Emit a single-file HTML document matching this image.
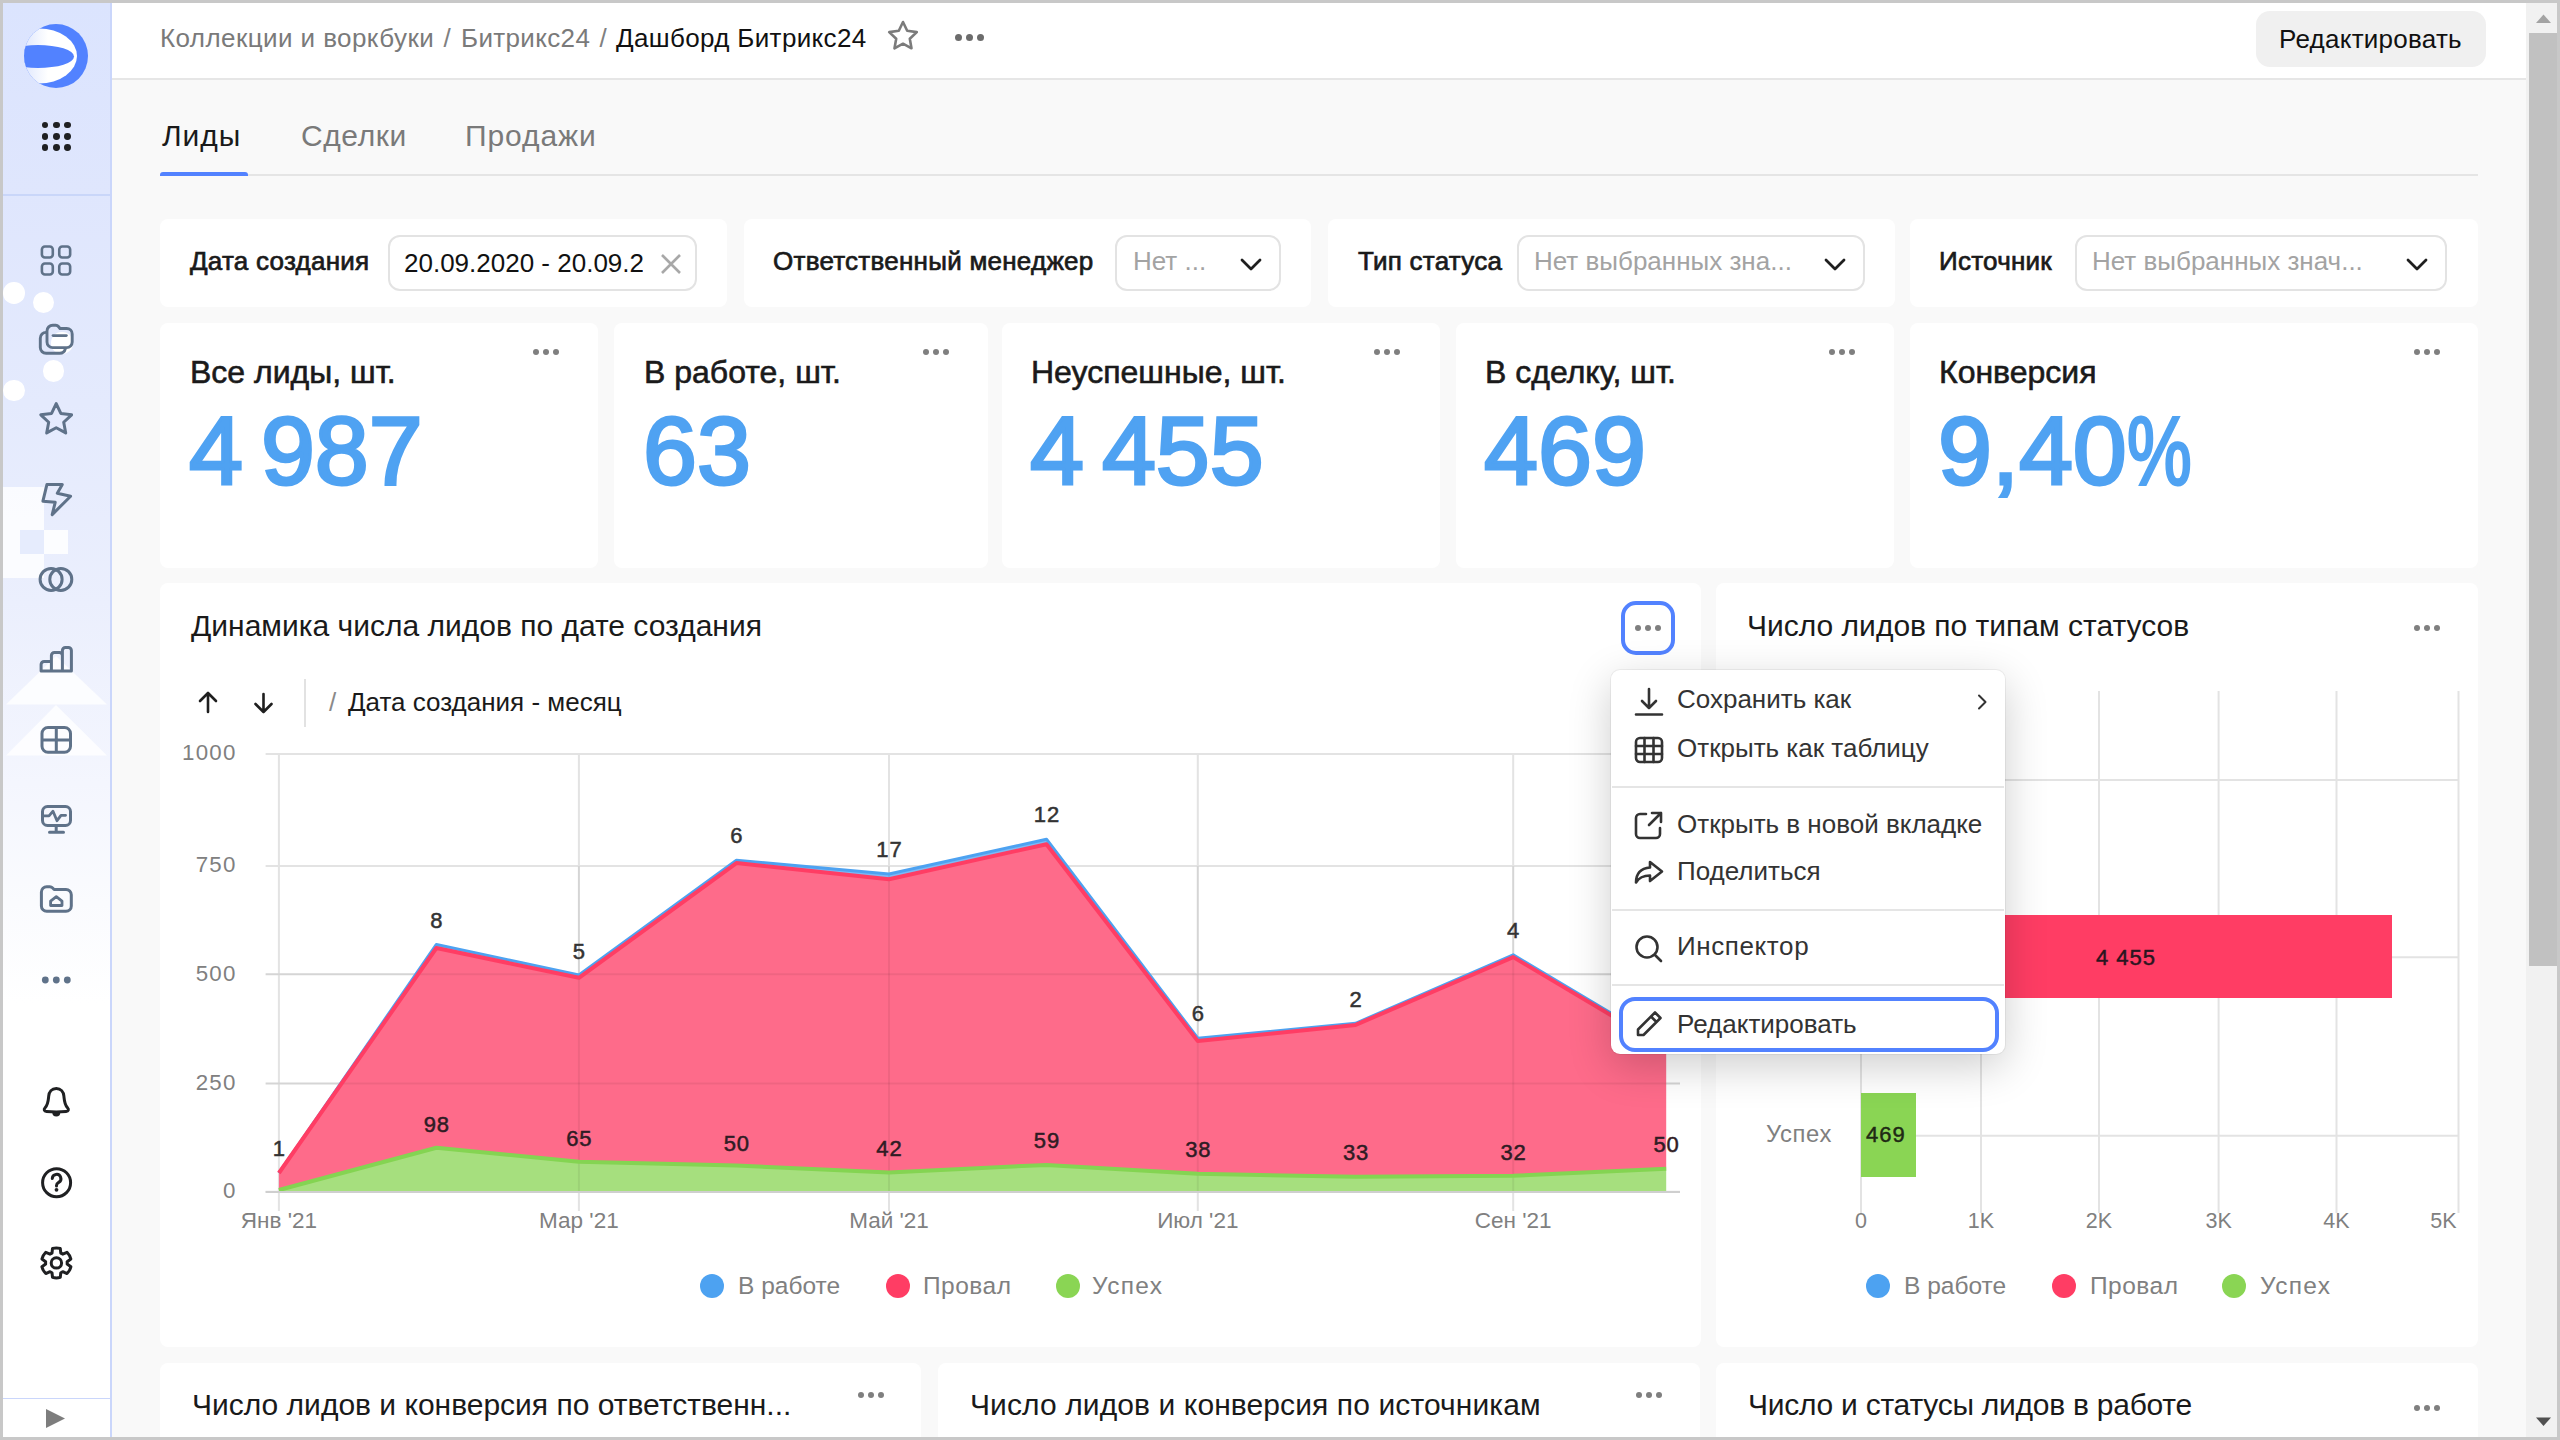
<!DOCTYPE html><html><head><meta charset="utf-8"><style>
html,body{font-family:'Liberation Sans',sans-serif;margin:0;padding:0;width:2560px;height:1440px;overflow:hidden;background:#c8c8c8;}
.t{position:absolute;white-space:nowrap;line-height:1;}
.r{position:absolute;box-sizing:border-box;}
svg{position:absolute;overflow:visible}
</style></head><body>
<div class="r" style="left:3px;top:3px;width:2554px;height:1434px;background:#f9f9f9;border-radius:0px;"></div>
<div class="r" style="left:3px;top:3px;width:108px;height:1434px;background:linear-gradient(180deg,#dbe4fe 0px,#dfe6fd 190px,#e4eafd 400px,#ebeffd 600px,#f4f6fe 780px,#fafbfe 900px,#ffffff 1000px,#ffffff 1434px)"></div>
<div class="r" style="left:3.4000000000000004px;top:282.3px;width:21.4px;height:21.4px;border-radius:50%;background:#ffffff"></div>
<div class="r" style="left:32.5px;top:292.1px;width:21.4px;height:21.4px;border-radius:50%;background:#ffffff"></div>
<div class="r" style="left:42.7px;top:360.3px;width:21.4px;height:21.4px;border-radius:50%;background:#ffffff"></div>
<div class="r" style="left:3.4000000000000004px;top:379.8px;width:21.4px;height:21.4px;border-radius:50%;background:#ffffff"></div>
<div class="r" style="left:51.3px;top:332.3px;width:21.4px;height:21.4px;border-radius:50%;background:#ffffff"></div>
<div class="r" style="left:3px;top:487px;width:41px;height:91px;background:rgba(255,255,255,0.8);border-radius:0px;"></div>
<div class="r" style="left:20px;top:530px;width:24px;height:24px;background:#e6ecfd;border-radius:0px;"></div>
<div class="r" style="left:44px;top:530px;width:24px;height:24px;background:rgba(255,255,255,0.85);border-radius:0px;"></div>
<svg style="left:0;top:0" width="120" height="800"><polygon points="6,704.5 56,656 107,704.5" fill="rgba(255,255,255,0.8)"/><polygon points="6,755.5 56,705 107,755.5" fill="rgba(255,255,255,0.8)"/></svg>
<div class="r" style="left:110px;top:3px;width:2px;height:1434px;background:#cad6fb;border-radius:0px;"></div>
<div class="r" style="left:3px;top:194px;width:107px;height:2px;background:#c9d6f9;border-radius:0px;"></div>
<div class="r" style="left:3px;top:1398px;width:107px;height:1px;background:#cad6fb;border-radius:0px;"></div>
<svg style="left:24px;top:24px" width="64" height="64" viewBox="0 0 64 64">
<defs><clipPath id="lc"><circle cx="32" cy="32" r="32"/></clipPath>
<linearGradient id="lg" x1="0" x2="1" y1="0" y2="0"><stop offset="0.3" stop-color="#dfe7fd"/><stop offset="0.62" stop-color="#ffffff"/></linearGradient></defs>
<g clip-path="url(#lc)"><rect width="64" height="64" fill="#5282ff"/>
<ellipse cx="15" cy="32" rx="38" ry="27.5" fill="url(#lg)"/>
<ellipse cx="14" cy="32.5" rx="36" ry="11.5" fill="#5282ff"/></g></svg>
<div class="r" style="left:41.6px;top:121.6px;width:6.8px;height:6.8px;border-radius:50%;background:#1f2022"></div>
<div class="r" style="left:41.6px;top:132.8px;width:6.8px;height:6.8px;border-radius:50%;background:#1f2022"></div>
<div class="r" style="left:41.6px;top:144.1px;width:6.8px;height:6.8px;border-radius:50%;background:#1f2022"></div>
<div class="r" style="left:52.9px;top:121.6px;width:6.8px;height:6.8px;border-radius:50%;background:#1f2022"></div>
<div class="r" style="left:52.9px;top:132.8px;width:6.8px;height:6.8px;border-radius:50%;background:#1f2022"></div>
<div class="r" style="left:52.9px;top:144.1px;width:6.8px;height:6.8px;border-radius:50%;background:#1f2022"></div>
<div class="r" style="left:64.1px;top:121.6px;width:6.8px;height:6.8px;border-radius:50%;background:#1f2022"></div>
<div class="r" style="left:64.1px;top:132.8px;width:6.8px;height:6.8px;border-radius:50%;background:#1f2022"></div>
<div class="r" style="left:64.1px;top:144.1px;width:6.8px;height:6.8px;border-radius:50%;background:#1f2022"></div>
<svg style="left:0;top:0" width="120" height="1440"><rect x="41.9" y="246.55" width="10.9" height="11" rx="3" fill="none" stroke="#5f7289" stroke-width="2.6"/><rect x="59.25" y="246.55" width="10.9" height="11" rx="3" fill="none" stroke="#5f7289" stroke-width="2.6"/><rect x="41.9" y="263.55" width="10.9" height="11" rx="3" fill="none" stroke="#5f7289" stroke-width="2.6"/><rect x="59.25" y="263.55" width="10.9" height="11" rx="3" fill="none" stroke="#5f7289" stroke-width="2.6"/><path d="M47,331 a5.8,5.8 0 0 1 5.8,-5.8 h3 q1.6,0 2.6,1.3 l1.6,2 h6.7 a5.5,5.5 0 0 1 5.5,5.5 v8.1 a5.5,5.5 0 0 1 -5.5,5.5 h-14 a5.7,5.7 0 0 1 -5.7,-5.7 z" fill="none" stroke="#5f7289" stroke-width="2.9" stroke-linecap="round" stroke-linejoin="round"/><path d="M46.5,332.4 h-0.4 a5.8,5.8 0 0 0 -5.8,5.8 v9.3 a5.8,5.8 0 0 0 5.8,5.8 h13.6 a5.8,5.8 0 0 0 5.6,-4.4" fill="none" stroke="#5f7289" stroke-width="2.9" stroke-linecap="round" stroke-linejoin="round"/><path d="M53.1,335.6 h13.2" fill="none" stroke="#5f7289" stroke-width="2.9" stroke-linecap="round" stroke-linejoin="round"/><path d="M56.20,403.60 L60.84,413.41 L71.61,414.79 L63.71,422.24 L65.72,432.91 L56.20,427.70 L46.68,432.91 L48.69,422.24 L40.79,414.79 L51.56,413.41 Z" fill="none" stroke="#5f7289" stroke-width="3" stroke-linecap="round" stroke-linejoin="round"/><path d="M46.9,484.6 L62.3,484.6 L57.3,493.2 L70.6,496.2 L52.2,514.6 L55.2,502.3 L42.9,501.2 Z" fill="none" stroke="#5f7289" stroke-width="3" stroke-linecap="round" stroke-linejoin="round"/><circle cx="51.1" cy="579.4" r="11" fill="none" stroke="#5f7289" stroke-width="3"/><circle cx="60.8" cy="579.4" r="11" fill="none" stroke="#5f7289" stroke-width="3"/><path d="M41.1,671 v-6.5 a3,3 0 0 1 3,-3 h7.3 v9.5 z M51.4,671 v-15.5 a3,3 0 0 1 3,-3 h5 a3,3 0 0 1 3,3 v15.5 z M62.4,671 v-20.5 a3,3 0 0 1 3,-3 h3 a3,3 0 0 1 3,3 v20.5 z" fill="none" stroke="#5f7289" stroke-width="3" stroke-linecap="round" stroke-linejoin="round"/><path d="M48,727.5 h16.5 a6,6 0 0 1 6,6 v12.8 a6,6 0 0 1 -6,6 h-16.5 a6,6 0 0 1 -6,-6 v-12.8 a6,6 0 0 1 6,-6 z M56.3,727.5 v24.8 M42,739.9 h28.5" fill="none" stroke="#5f7289" stroke-width="3" stroke-linecap="round" stroke-linejoin="round"/><path d="M47.5,806.5 h18 a5,5 0 0 1 5,5 v9 a5,5 0 0 1 -5,5 h-18 a5,5 0 0 1 -5,-5 v-9 a5,5 0 0 1 5,-5 z" fill="none" stroke="#5f7289" stroke-width="3" stroke-linecap="round" stroke-linejoin="round"/><path d="M56.2,826 v6.2 M49.5,832.2 h14" fill="none" stroke="#5f7289" stroke-width="3" stroke-linecap="round" stroke-linejoin="round"/><path d="M43.5,815.8 h5.5 l4,-4.6 l4,9.5 l4,-5.4 h4.6" fill="none" stroke="#5f7289" stroke-width="2.8" stroke-linecap="round" stroke-linejoin="round"/><path d="M41.4,892 a5.3,5.3 0 0 1 5.3,-5.3 h3.2 q1.5,0 2.5,1.1 l1.7,1.7 h11.9 a5.3,5.3 0 0 1 5.3,5.3 v11.2 a5.3,5.3 0 0 1 -5.3,5.3 h-19.3 a5.3,5.3 0 0 1 -5.3,-5.3 z" fill="none" stroke="#5f7289" stroke-width="3" stroke-linecap="round" stroke-linejoin="round"/><path d="M56.3,896.6 l5.7,4.5 v4.4 h-11.4 v-4.4 z" fill="none" stroke="#5f7289" stroke-width="2.8" stroke-linecap="round" stroke-linejoin="round"/><circle cx="45.3" cy="980" r="3.4" fill="#5f7289"/><circle cx="56.3" cy="980" r="3.4" fill="#5f7289"/><circle cx="67.3" cy="980" r="3.4" fill="#5f7289"/><path d="M56.3,1088.6 c-4.6,0 -7.2,3.4 -7.6,7.6 c-0.5,5.4 -0.6,8.4 -3.6,11.6 c-1.6,1.7 -0.9,3.6 1.4,3.7 c6.5,0.5 13.1,0.5 19.6,0 c2.3,-0.1 3,-2 1.4,-3.7 c-3,-3.2 -3.1,-6.2 -3.6,-11.6 c-0.4,-4.2 -3,-7.6 -7.6,-7.6 z" fill="none" stroke="#1f2022" stroke-width="3" stroke-linecap="round" stroke-linejoin="round"/><path d="M52.3,1112.6 a4,4 0 0 0 8,0 z" fill="#1f2022"/><circle cx="56.6" cy="1182.7" r="14" fill="none" stroke="#1f2022" stroke-width="3"/><path d="M52.3,1178.6 a4.3,4.3 0 1 1 6.4,3.8 c-1.4,0.8 -2.2,1.5 -2.2,3 v0.6" fill="none" stroke="#1f2022" stroke-width="3" stroke-linecap="round" stroke-linejoin="round"/><circle cx="56.5" cy="1189.8" r="1.9" fill="#1f2022"/><path d="M52.01,1253.03 L52.52,1248.41 A15.0,15.0 0 0 1 60.28,1248.41 L60.79,1253.03 A10.8,10.8 0 0 1 62.75,1254.16 L67.01,1252.29 A15.0,15.0 0 0 1 70.89,1259.02 L67.14,1261.77 A10.8,10.8 0 0 1 67.14,1264.03 L70.89,1266.78 A15.0,15.0 0 0 1 67.01,1273.51 L62.75,1271.64 A10.8,10.8 0 0 1 60.79,1272.77 L60.28,1277.39 A15.0,15.0 0 0 1 52.52,1277.39 L52.01,1272.77 A10.8,10.8 0 0 1 50.05,1271.64 L45.79,1273.51 A15.0,15.0 0 0 1 41.91,1266.78 L45.66,1264.03 A10.8,10.8 0 0 1 45.66,1261.77 L41.91,1259.02 A15.0,15.0 0 0 1 45.79,1252.29 L50.05,1254.16 A10.8,10.8 0 0 1 52.01,1253.03 Z" fill="none" stroke="#1f2022" stroke-width="3" stroke-linecap="round" stroke-linejoin="round"/><circle cx="56.4" cy="1262.9" r="5.2" fill="none" stroke="#1f2022" stroke-width="3"/></svg>
<svg style="left:46px;top:1409px" width="20" height="20"><polygon points="0,0 19,9.5 0,19" fill="#7d7d7d"/></svg>
<div class="r" style="left:112px;top:3px;width:2414px;height:75px;background:#ffffff;border-radius:0px;"></div>
<div class="r" style="left:112px;top:78px;width:2414px;height:2px;background:#e6e6e6;border-radius:0px;"></div>
<div class="t" style="left:160.0px;top:25.4px;font-size:26px;color:#7a7a7a;font-weight:400;font-family:'Liberation Sans', sans-serif;letter-spacing:0.42px;">Коллекции и воркбуки</div>
<div class="t" style="left:443.5px;top:25.4px;font-size:26px;color:#808080;font-weight:400;font-family:'Liberation Sans', sans-serif;letter-spacing:0px;">/</div>
<div class="t" style="left:461.0px;top:25.4px;font-size:26px;color:#7a7a7a;font-weight:400;font-family:'Liberation Sans', sans-serif;letter-spacing:0.35px;">Битрикс24</div>
<div class="t" style="left:599.5px;top:25.4px;font-size:26px;color:#808080;font-weight:400;font-family:'Liberation Sans', sans-serif;letter-spacing:0px;">/</div>
<div class="t" style="left:616.0px;top:25.4px;font-size:26px;color:#111111;font-weight:400;font-family:'Liberation Sans', sans-serif;letter-spacing:0.35px;">Дашборд Битрикс24</div>
<svg style="left:886px;top:19px" width="34" height="34" viewBox="0 0 34 34" fill="none" stroke="#7b7b7b" stroke-width="2.6" stroke-linejoin="round"><path d="M17 3 l4.2 8.8 9.6 1.3 -7 6.7 1.7 9.5 -8.5 -4.6 -8.5 4.6 1.7 -9.5 -7 -6.7 9.6 -1.3 z"/></svg>
<div class="r" style="left:955.0px;top:33.5px;width:7px;height:7px;border-radius:50%;background:#6c6c6c"></div>
<div class="r" style="left:966.0px;top:33.5px;width:7px;height:7px;border-radius:50%;background:#6c6c6c"></div>
<div class="r" style="left:977.0px;top:33.5px;width:7px;height:7px;border-radius:50%;background:#6c6c6c"></div>
<div class="r" style="left:2256px;top:11px;width:230px;height:56px;background:#f0f0f0;border-radius:14px;"></div>
<div class="t" style="left:2279.0px;top:25.7px;font-size:26px;color:#111111;font-weight:400;font-family:'Liberation Sans', sans-serif;letter-spacing:0.25px;">Редактировать</div>
<div class="r" style="left:2526px;top:3px;width:31px;height:1434px;background:#f1f1f1;border-radius:0px;"></div>
<div class="r" style="left:2529px;top:33px;width:28px;height:933px;background:#c1c1c1;border-radius:0px;"></div>
<svg style="left:2536px;top:14px" width="16" height="10"><polygon points="0,9 7.5,0.5 15,9" fill="#a3a3a3"/></svg>
<svg style="left:2536px;top:1417px" width="16" height="10"><polygon points="0,0.5 15,0.5 7.5,9" fill="#505050"/></svg>
<div class="t" style="left:162.0px;top:120.7px;font-size:30px;color:#1a1a1a;font-weight:400;font-family:'Liberation Sans', sans-serif;letter-spacing:0.9px;">Лиды</div>
<div class="t" style="left:301.0px;top:120.7px;font-size:30px;color:#7a7a7a;font-weight:400;font-family:'Liberation Sans', sans-serif;letter-spacing:0.6px;">Сделки</div>
<div class="t" style="left:465.0px;top:120.7px;font-size:30px;color:#7a7a7a;font-weight:400;font-family:'Liberation Sans', sans-serif;letter-spacing:0.9px;">Продажи</div>
<div class="r" style="left:160px;top:174px;width:2318px;height:2px;background:#e5e5e5;border-radius:0px;"></div>
<div class="r" style="left:160px;top:172px;width:88px;height:4px;background:#5282ff;border-radius:0px;border-radius:3px 3px 0 0"></div>
<div class="r" style="left:160px;top:219px;width:567px;height:88px;background:#ffffff;border-radius:8px;"></div>
<div class="t" style="left:190.0px;top:247.9px;font-size:26px;color:#1a1a1a;font-weight:400;font-family:'Liberation Sans', sans-serif;letter-spacing:0.25px;;-webkit-text-stroke:0.7px #1a1a1a;">Дата создания</div>
<div class="r" style="left:388px;top:235px;width:309px;height:56px;background:#ffffff;border-radius:12px;border:2px solid #e3e3e3"></div>
<div class="r" style="left:404px;top:240px;width:239px;height:46px;overflow:hidden"><div class="t" style="left:0;top:9.9px;font-size:26px;color:#111">20.09.2020 - 20.09.2021</div></div>
<svg style="left:660px;top:253px" width="22" height="22" fill="none" stroke="#a8a8a8" stroke-width="2.6"><path d="M2 2 l18 18 M20 2 l-18 18"/></svg>
<div class="r" style="left:744px;top:219px;width:567px;height:88px;background:#ffffff;border-radius:8px;"></div>
<div class="t" style="left:773.0px;top:247.9px;font-size:26px;color:#1a1a1a;font-weight:400;font-family:'Liberation Sans', sans-serif;letter-spacing:0.25px;;-webkit-text-stroke:0.7px #1a1a1a;">Ответственный менеджер</div>
<div class="r" style="left:1115px;top:235px;width:166px;height:56px;background:#ffffff;border-radius:12px;border:2px solid #e3e3e3"></div>
<div class="t" style="left:1133.0px;top:247.9px;font-size:26px;color:#a3a3a3;font-weight:400;font-family:'Liberation Sans', sans-serif;letter-spacing:0px;">Нет ...</div>
<svg style="left:1240px;top:258px" width="22" height="14" fill="none" stroke="#1f1f1f" stroke-width="2.8" stroke-linecap="round" stroke-linejoin="round"><path d="M2 2 l9 9 l9 -9"/></svg>
<div class="r" style="left:1328px;top:219px;width:567px;height:88px;background:#ffffff;border-radius:8px;"></div>
<div class="t" style="left:1358.0px;top:247.9px;font-size:26px;color:#1a1a1a;font-weight:400;font-family:'Liberation Sans', sans-serif;letter-spacing:0.25px;;-webkit-text-stroke:0.7px #1a1a1a;">Тип статуса</div>
<div class="r" style="left:1517px;top:235px;width:348px;height:56px;background:#ffffff;border-radius:12px;border:2px solid #e3e3e3"></div>
<div class="t" style="left:1534.0px;top:247.9px;font-size:26px;color:#a3a3a3;font-weight:400;font-family:'Liberation Sans', sans-serif;letter-spacing:0px;">Нет выбранных зна...</div>
<svg style="left:1824px;top:258px" width="22" height="14" fill="none" stroke="#1f1f1f" stroke-width="2.8" stroke-linecap="round" stroke-linejoin="round"><path d="M2 2 l9 9 l9 -9"/></svg>
<div class="r" style="left:1910px;top:219px;width:568px;height:88px;background:#ffffff;border-radius:8px;"></div>
<div class="t" style="left:1939.0px;top:247.9px;font-size:26px;color:#1a1a1a;font-weight:400;font-family:'Liberation Sans', sans-serif;letter-spacing:0.25px;;-webkit-text-stroke:0.7px #1a1a1a;">Источник</div>
<div class="r" style="left:2075px;top:235px;width:372px;height:56px;background:#ffffff;border-radius:12px;border:2px solid #e3e3e3"></div>
<div class="t" style="left:2092.0px;top:247.9px;font-size:26px;color:#a3a3a3;font-weight:400;font-family:'Liberation Sans', sans-serif;letter-spacing:0px;">Нет выбранных знач...</div>
<svg style="left:2406px;top:258px" width="22" height="14" fill="none" stroke="#1f1f1f" stroke-width="2.8" stroke-linecap="round" stroke-linejoin="round"><path d="M2 2 l9 9 l9 -9"/></svg>
<div class="r" style="left:160px;top:323px;width:438px;height:245px;background:#ffffff;border-radius:8px;"></div>
<div class="t" style="left:190.0px;top:356.0px;font-size:32px;color:#1a1a1a;font-weight:400;font-family:'Liberation Sans', sans-serif;letter-spacing:0px;;-webkit-text-stroke:0.6px #1a1a1a;">Все лиды, шт.</div>
<div class="t" style="left:189.0px;top:402.1px;font-size:97px;color:#4fa2f2;font-weight:400;font-family:'Liberation Sans', sans-serif;letter-spacing:0px;;-webkit-text-stroke:3px #4fa2f2;">4<span style="letter-spacing:-9px"> </span>987</div>
<div class="r" style="left:532.5px;top:349.0px;width:6px;height:6px;border-radius:50%;background:#7f7f7f"></div>
<div class="r" style="left:542.5px;top:349.0px;width:6px;height:6px;border-radius:50%;background:#7f7f7f"></div>
<div class="r" style="left:552.5px;top:349.0px;width:6px;height:6px;border-radius:50%;background:#7f7f7f"></div>
<div class="r" style="left:614px;top:323px;width:374px;height:245px;background:#ffffff;border-radius:8px;"></div>
<div class="t" style="left:644.0px;top:356.0px;font-size:32px;color:#1a1a1a;font-weight:400;font-family:'Liberation Sans', sans-serif;letter-spacing:0px;;-webkit-text-stroke:0.6px #1a1a1a;">В работе, шт.</div>
<div class="t" style="left:643.0px;top:402.1px;font-size:97px;color:#4fa2f2;font-weight:400;font-family:'Liberation Sans', sans-serif;letter-spacing:0px;;-webkit-text-stroke:3px #4fa2f2;">63</div>
<div class="r" style="left:922.5px;top:349.0px;width:6px;height:6px;border-radius:50%;background:#7f7f7f"></div>
<div class="r" style="left:932.5px;top:349.0px;width:6px;height:6px;border-radius:50%;background:#7f7f7f"></div>
<div class="r" style="left:942.5px;top:349.0px;width:6px;height:6px;border-radius:50%;background:#7f7f7f"></div>
<div class="r" style="left:1002px;top:323px;width:438px;height:245px;background:#ffffff;border-radius:8px;"></div>
<div class="t" style="left:1031.0px;top:356.0px;font-size:32px;color:#1a1a1a;font-weight:400;font-family:'Liberation Sans', sans-serif;letter-spacing:0px;;-webkit-text-stroke:0.6px #1a1a1a;">Неуспешные, шт.</div>
<div class="t" style="left:1030.0px;top:402.1px;font-size:97px;color:#4fa2f2;font-weight:400;font-family:'Liberation Sans', sans-serif;letter-spacing:0px;;-webkit-text-stroke:3px #4fa2f2;">4<span style="letter-spacing:-9px"> </span>455</div>
<div class="r" style="left:1374.0px;top:349.0px;width:6px;height:6px;border-radius:50%;background:#7f7f7f"></div>
<div class="r" style="left:1384.0px;top:349.0px;width:6px;height:6px;border-radius:50%;background:#7f7f7f"></div>
<div class="r" style="left:1394.0px;top:349.0px;width:6px;height:6px;border-radius:50%;background:#7f7f7f"></div>
<div class="r" style="left:1456px;top:323px;width:438px;height:245px;background:#ffffff;border-radius:8px;"></div>
<div class="t" style="left:1485.0px;top:356.0px;font-size:32px;color:#1a1a1a;font-weight:400;font-family:'Liberation Sans', sans-serif;letter-spacing:0px;;-webkit-text-stroke:0.6px #1a1a1a;">В сделку, шт.</div>
<div class="t" style="left:1484.0px;top:402.1px;font-size:97px;color:#4fa2f2;font-weight:400;font-family:'Liberation Sans', sans-serif;letter-spacing:0px;;-webkit-text-stroke:3px #4fa2f2;">469</div>
<div class="r" style="left:1828.5px;top:349.0px;width:6px;height:6px;border-radius:50%;background:#7f7f7f"></div>
<div class="r" style="left:1838.5px;top:349.0px;width:6px;height:6px;border-radius:50%;background:#7f7f7f"></div>
<div class="r" style="left:1848.5px;top:349.0px;width:6px;height:6px;border-radius:50%;background:#7f7f7f"></div>
<div class="r" style="left:1910px;top:323px;width:568px;height:245px;background:#ffffff;border-radius:8px;"></div>
<div class="t" style="left:1939.0px;top:356.0px;font-size:32px;color:#1a1a1a;font-weight:400;font-family:'Liberation Sans', sans-serif;letter-spacing:0px;;-webkit-text-stroke:0.6px #1a1a1a;">Конверсия</div>
<div class="t" style="left:1938.0px;top:402.1px;font-size:97px;color:#4fa2f2;font-weight:400;font-family:'Liberation Sans', sans-serif;letter-spacing:0px;;-webkit-text-stroke:3px #4fa2f2;">9,40<span style="display:inline-block;transform:scaleX(0.75);transform-origin:0 0">%</span></div>
<div class="r" style="left:2414.0px;top:349.0px;width:6px;height:6px;border-radius:50%;background:#7f7f7f"></div>
<div class="r" style="left:2424.0px;top:349.0px;width:6px;height:6px;border-radius:50%;background:#7f7f7f"></div>
<div class="r" style="left:2434.0px;top:349.0px;width:6px;height:6px;border-radius:50%;background:#7f7f7f"></div>
<div class="r" style="left:160px;top:583px;width:1541px;height:764px;background:#ffffff;border-radius:8px;"></div>
<div class="r" style="left:1716px;top:583px;width:762px;height:764px;background:#ffffff;border-radius:8px;"></div>
<div class="r" style="left:160px;top:1363px;width:761px;height:97px;background:#ffffff;border-radius:8px;"></div>
<div class="r" style="left:938px;top:1363px;width:762px;height:97px;background:#ffffff;border-radius:8px;"></div>
<div class="r" style="left:1716px;top:1363px;width:762px;height:97px;background:#ffffff;border-radius:8px;"></div>
<div class="t" style="left:191.0px;top:610.5px;font-size:30px;color:#1a1a1a;font-weight:400;font-family:'Liberation Sans', sans-serif;letter-spacing:0px;">Динамика числа лидов по дате создания</div>
<div class="t" style="left:1747.0px;top:610.5px;font-size:30px;color:#1a1a1a;font-weight:400;font-family:'Liberation Sans', sans-serif;letter-spacing:0px;">Число лидов по типам статусов</div>
<div class="r" style="left:2413.5px;top:625.0px;width:6px;height:6px;border-radius:50%;background:#7f7f7f"></div>
<div class="r" style="left:2423.5px;top:625.0px;width:6px;height:6px;border-radius:50%;background:#7f7f7f"></div>
<div class="r" style="left:2433.5px;top:625.0px;width:6px;height:6px;border-radius:50%;background:#7f7f7f"></div>
<div class="t" style="left:192.0px;top:1390.0px;font-size:30px;color:#1a1a1a;font-weight:400;font-family:'Liberation Sans', sans-serif;letter-spacing:0px;">Число лидов и конверсия по ответственн...</div>
<div class="r" style="left:857.5px;top:1392.0px;width:6px;height:6px;border-radius:50%;background:#7f7f7f"></div>
<div class="r" style="left:867.5px;top:1392.0px;width:6px;height:6px;border-radius:50%;background:#7f7f7f"></div>
<div class="r" style="left:877.5px;top:1392.0px;width:6px;height:6px;border-radius:50%;background:#7f7f7f"></div>
<div class="t" style="left:970.0px;top:1390.0px;font-size:30px;color:#1a1a1a;font-weight:400;font-family:'Liberation Sans', sans-serif;letter-spacing:0.1px;">Число лидов и конверсия по источникам</div>
<div class="r" style="left:1635.5px;top:1392.0px;width:6px;height:6px;border-radius:50%;background:#7f7f7f"></div>
<div class="r" style="left:1645.5px;top:1392.0px;width:6px;height:6px;border-radius:50%;background:#7f7f7f"></div>
<div class="r" style="left:1655.5px;top:1392.0px;width:6px;height:6px;border-radius:50%;background:#7f7f7f"></div>
<div class="t" style="left:1748.0px;top:1390.0px;font-size:30px;color:#1a1a1a;font-weight:400;font-family:'Liberation Sans', sans-serif;letter-spacing:-0.25px;">Число и статусы лидов в работе</div>
<div class="r" style="left:2413.5px;top:1405.0px;width:6px;height:6px;border-radius:50%;background:#7f7f7f"></div>
<div class="r" style="left:2423.5px;top:1405.0px;width:6px;height:6px;border-radius:50%;background:#7f7f7f"></div>
<div class="r" style="left:2433.5px;top:1405.0px;width:6px;height:6px;border-radius:50%;background:#7f7f7f"></div>
<svg style="left:196px;top:690px" width="80" height="28" fill="none" stroke="#1f1f1f" stroke-width="2.6" stroke-linecap="round" stroke-linejoin="round"><path d="M12 22 v-18 M4 11 l8 -8 l8 8"/><path d="M67.5 4 v18 M59.5 14 l8 8 l8 -8"/></svg>
<div class="r" style="left:304px;top:679px;width:1.5px;height:48px;background:#e2e2e2;border-radius:0px;"></div>
<div class="t" style="left:329.0px;top:689.2px;font-size:26px;color:#8a8a8a;font-weight:400;font-family:'Liberation Sans', sans-serif;letter-spacing:0px;">/</div>
<div class="t" style="left:348.0px;top:689.2px;font-size:26px;color:#1a1a1a;font-weight:400;font-family:'Liberation Sans', sans-serif;letter-spacing:0px;">Дата создания - месяц</div>
<svg style="left:0;top:0" width="2560" height="1440"><line x1="265.6" y1="753.9" x2="1680" y2="753.9" stroke="#e3e3e3" stroke-width="2"/><line x1="265.6" y1="866.1" x2="1680" y2="866.1" stroke="#e3e3e3" stroke-width="2"/><line x1="265.6" y1="974.2" x2="1680" y2="974.2" stroke="#e3e3e3" stroke-width="2"/><line x1="265.6" y1="1083.6" x2="1680" y2="1083.6" stroke="#e3e3e3" stroke-width="2"/><line x1="265.6" y1="1191.7" x2="1680" y2="1191.7" stroke="#e3e3e3" stroke-width="2"/><line x1="278.9" y1="753.9" x2="278.9" y2="1211" stroke="#e3e3e3" stroke-width="2"/><line x1="578.9" y1="753.9" x2="578.9" y2="1211" stroke="#e3e3e3" stroke-width="2"/><line x1="889" y1="753.9" x2="889" y2="1211" stroke="#e3e3e3" stroke-width="2"/><line x1="1197.8" y1="753.9" x2="1197.8" y2="1211" stroke="#e3e3e3" stroke-width="2"/><line x1="1513.2" y1="753.9" x2="1513.2" y2="1211" stroke="#e3e3e3" stroke-width="2"/><polygon points="278.9,1173.0 436.4,944.4 578.9,975.0 736.4,860.2 889.0,874.0 1046.5,839.2 1197.8,1038.2 1355.6,1023.3 1513.2,954.8 1666.2,1046.0 1666.2,1048.0 1513.2,957.1 1355.6,1024.9 1197.8,1041.1 1046.5,844.2 889.0,879.2 736.4,863.1 578.9,977.8 436.4,948.0 278.9,1173.0" fill="#7db9f5"/><polygon points="278.9,1173.0 436.4,948.0 578.9,977.8 736.4,863.1 889.0,879.2 1046.5,844.2 1197.8,1041.1 1355.6,1024.9 1513.2,957.1 1666.2,1048.0 1666.2,1168.7 1513.2,1175.8 1355.6,1176.7 1197.8,1173.8 1046.5,1164.9 889.0,1172.4 736.4,1165.6 578.9,1161.7 436.4,1147.8 278.9,1190.0" fill="#fe6b8a"/><polygon points="278.9,1190.0 436.4,1147.8 578.9,1161.7 736.4,1165.6 889.0,1172.4 1046.5,1164.9 1197.8,1173.8 1355.6,1176.7 1513.2,1175.8 1666.2,1168.7 1666.2,1191.7 278.9,1191.7" fill="#a6df7e"/><line x1="265.6" y1="974.2" x2="1680" y2="974.2" stroke="rgba(0,0,0,0.06)" stroke-width="2"/><line x1="265.6" y1="1083.6" x2="1680" y2="1083.6" stroke="rgba(0,0,0,0.06)" stroke-width="2"/><line x1="578.9" y1="866.1" x2="578.9" y2="1191" stroke="rgba(0,0,0,0.06)" stroke-width="2"/><line x1="889" y1="866.1" x2="889" y2="1191" stroke="rgba(0,0,0,0.06)" stroke-width="2"/><line x1="1197.8" y1="866.1" x2="1197.8" y2="1191" stroke="rgba(0,0,0,0.06)" stroke-width="2"/><line x1="1513.2" y1="866.1" x2="1513.2" y2="1191" stroke="rgba(0,0,0,0.06)" stroke-width="2"/><polyline points="278.9,1173.0 436.4,944.4 578.9,975.0 736.4,860.2 889.0,874.0 1046.5,839.2 1197.8,1038.2 1355.6,1023.3 1513.2,954.8 1666.2,1046.0" fill="none" stroke="#4da2f1" stroke-width="3" stroke-linejoin="round"/><polyline points="278.9,1173.0 436.4,948.0 578.9,977.8 736.4,863.1 889.0,879.2 1046.5,844.2 1197.8,1041.1 1355.6,1024.9 1513.2,957.1 1666.2,1048.0" fill="none" stroke="#ff3d64" stroke-width="4" stroke-linejoin="round"/><polyline points="278.9,1190.0 436.4,1147.8 578.9,1161.7 736.4,1165.6 889.0,1172.4 1046.5,1164.9 1197.8,1173.8 1355.6,1176.7 1513.2,1175.8 1666.2,1168.7" fill="none" stroke="#84d452" stroke-width="4" stroke-linejoin="round"/><line x1="265.6" y1="1192" x2="1680" y2="1192" stroke="#cfcfcf" stroke-width="2"/></svg>
<div class="t" style="left:236.5px;top:742.2px;font-size:22.3px;color:#808080;font-weight:400;font-family:'Liberation Sans', sans-serif;letter-spacing:1.2px;transform:translateX(-100%)">1000</div>
<div class="t" style="left:236.5px;top:854.4px;font-size:22.3px;color:#808080;font-weight:400;font-family:'Liberation Sans', sans-serif;letter-spacing:1.2px;transform:translateX(-100%)">750</div>
<div class="t" style="left:236.5px;top:962.5px;font-size:22.3px;color:#808080;font-weight:400;font-family:'Liberation Sans', sans-serif;letter-spacing:1.2px;transform:translateX(-100%)">500</div>
<div class="t" style="left:236.5px;top:1071.9px;font-size:22.3px;color:#808080;font-weight:400;font-family:'Liberation Sans', sans-serif;letter-spacing:1.2px;transform:translateX(-100%)">250</div>
<div class="t" style="left:236.5px;top:1180.0px;font-size:22.3px;color:#808080;font-weight:400;font-family:'Liberation Sans', sans-serif;letter-spacing:1.2px;transform:translateX(-100%)">0</div>
<div class="t" style="left:278.9px;top:1209.9px;font-size:22.5px;color:#808080;font-weight:400;font-family:'Liberation Sans', sans-serif;letter-spacing:0px;transform:translateX(-50%)">Янв '21</div>
<div class="t" style="left:578.9px;top:1209.9px;font-size:22.5px;color:#808080;font-weight:400;font-family:'Liberation Sans', sans-serif;letter-spacing:0px;transform:translateX(-50%)">Мар '21</div>
<div class="t" style="left:889.0px;top:1209.9px;font-size:22.5px;color:#808080;font-weight:400;font-family:'Liberation Sans', sans-serif;letter-spacing:0px;transform:translateX(-50%)">Май '21</div>
<div class="t" style="left:1197.8px;top:1209.9px;font-size:22.5px;color:#808080;font-weight:400;font-family:'Liberation Sans', sans-serif;letter-spacing:0px;transform:translateX(-50%)">Июл '21</div>
<div class="t" style="left:1513.2px;top:1209.9px;font-size:22.5px;color:#808080;font-weight:400;font-family:'Liberation Sans', sans-serif;letter-spacing:0px;transform:translateX(-50%)">Сен '21</div>
<div class="t" style="left:279.3px;top:1138.3px;font-size:22px;color:#333333;font-weight:400;font-family:'Liberation Sans', sans-serif;letter-spacing:0.8px;transform:translateX(-50%);-webkit-text-stroke:0.5px #333333;">1</div>
<div class="t" style="left:436.8px;top:909.6px;font-size:22px;color:#333333;font-weight:400;font-family:'Liberation Sans', sans-serif;letter-spacing:0.8px;transform:translateX(-50%);-webkit-text-stroke:0.5px #333333;">8</div>
<div class="t" style="left:436.8px;top:1114.3px;font-size:22px;color:#2f1c24;font-weight:400;font-family:'Liberation Sans', sans-serif;letter-spacing:0.8px;transform:translateX(-50%);-webkit-text-stroke:0.5px #2f1c24;">98</div>
<div class="t" style="left:579.3px;top:941.3px;font-size:22px;color:#333333;font-weight:400;font-family:'Liberation Sans', sans-serif;letter-spacing:0.8px;transform:translateX(-50%);-webkit-text-stroke:0.5px #333333;">5</div>
<div class="t" style="left:579.3px;top:1128.3px;font-size:22px;color:#2f1c24;font-weight:400;font-family:'Liberation Sans', sans-serif;letter-spacing:0.8px;transform:translateX(-50%);-webkit-text-stroke:0.5px #2f1c24;">65</div>
<div class="t" style="left:736.8px;top:825.3px;font-size:22px;color:#333333;font-weight:400;font-family:'Liberation Sans', sans-serif;letter-spacing:0.8px;transform:translateX(-50%);-webkit-text-stroke:0.5px #333333;">6</div>
<div class="t" style="left:736.8px;top:1133.3px;font-size:22px;color:#2f1c24;font-weight:400;font-family:'Liberation Sans', sans-serif;letter-spacing:0.8px;transform:translateX(-50%);-webkit-text-stroke:0.5px #2f1c24;">50</div>
<div class="t" style="left:889.4px;top:839.3px;font-size:22px;color:#333333;font-weight:400;font-family:'Liberation Sans', sans-serif;letter-spacing:0.8px;transform:translateX(-50%);-webkit-text-stroke:0.5px #333333;">17</div>
<div class="t" style="left:889.4px;top:1138.3px;font-size:22px;color:#2f1c24;font-weight:400;font-family:'Liberation Sans', sans-serif;letter-spacing:0.8px;transform:translateX(-50%);-webkit-text-stroke:0.5px #2f1c24;">42</div>
<div class="t" style="left:1046.9px;top:804.3px;font-size:22px;color:#333333;font-weight:400;font-family:'Liberation Sans', sans-serif;letter-spacing:0.8px;transform:translateX(-50%);-webkit-text-stroke:0.5px #333333;">12</div>
<div class="t" style="left:1046.9px;top:1130.3px;font-size:22px;color:#2f1c24;font-weight:400;font-family:'Liberation Sans', sans-serif;letter-spacing:0.8px;transform:translateX(-50%);-webkit-text-stroke:0.5px #2f1c24;">59</div>
<div class="t" style="left:1198.2px;top:1003.3px;font-size:22px;color:#333333;font-weight:400;font-family:'Liberation Sans', sans-serif;letter-spacing:0.8px;transform:translateX(-50%);-webkit-text-stroke:0.5px #333333;">6</div>
<div class="t" style="left:1198.2px;top:1139.3px;font-size:22px;color:#2f1c24;font-weight:400;font-family:'Liberation Sans', sans-serif;letter-spacing:0.8px;transform:translateX(-50%);-webkit-text-stroke:0.5px #2f1c24;">38</div>
<div class="t" style="left:1356.0px;top:989.3px;font-size:22px;color:#333333;font-weight:400;font-family:'Liberation Sans', sans-serif;letter-spacing:0.8px;transform:translateX(-50%);-webkit-text-stroke:0.5px #333333;">2</div>
<div class="t" style="left:1356.0px;top:1142.3px;font-size:22px;color:#2f1c24;font-weight:400;font-family:'Liberation Sans', sans-serif;letter-spacing:0.8px;transform:translateX(-50%);-webkit-text-stroke:0.5px #2f1c24;">33</div>
<div class="t" style="left:1513.6px;top:920.3px;font-size:22px;color:#333333;font-weight:400;font-family:'Liberation Sans', sans-serif;letter-spacing:0.8px;transform:translateX(-50%);-webkit-text-stroke:0.5px #333333;">4</div>
<div class="t" style="left:1513.6px;top:1142.3px;font-size:22px;color:#2f1c24;font-weight:400;font-family:'Liberation Sans', sans-serif;letter-spacing:0.8px;transform:translateX(-50%);-webkit-text-stroke:0.5px #2f1c24;">32</div>
<div class="t" style="left:1666.6px;top:1134.3px;font-size:22px;color:#2f1c24;font-weight:400;font-family:'Liberation Sans', sans-serif;letter-spacing:0.8px;transform:translateX(-50%);-webkit-text-stroke:0.5px #2f1c24;">50</div>
<div class="r" style="left:700px;top:1273.5px;width:24px;height:24px;border-radius:50%;background:#4da2f1"></div>
<div class="t" style="left:738.0px;top:1273.9px;font-size:24.5px;color:#808080;font-weight:400;font-family:'Liberation Sans', sans-serif;letter-spacing:0px;">В работе</div>
<div class="r" style="left:886px;top:1273.5px;width:24px;height:24px;border-radius:50%;background:#ff3d64"></div>
<div class="t" style="left:923.0px;top:1273.9px;font-size:24.5px;color:#808080;font-weight:400;font-family:'Liberation Sans', sans-serif;letter-spacing:0.5px;">Провал</div>
<div class="r" style="left:1056px;top:1273.5px;width:24px;height:24px;border-radius:50%;background:#8ad554"></div>
<div class="t" style="left:1092.0px;top:1273.9px;font-size:24.5px;color:#808080;font-weight:400;font-family:'Liberation Sans', sans-serif;letter-spacing:1.3px;">Успех</div>
<div class="r" style="left:1866px;top:1273.5px;width:24px;height:24px;border-radius:50%;background:#4da2f1"></div>
<div class="t" style="left:1904.0px;top:1273.9px;font-size:24.5px;color:#808080;font-weight:400;font-family:'Liberation Sans', sans-serif;letter-spacing:0px;">В работе</div>
<div class="r" style="left:2052px;top:1273.5px;width:24px;height:24px;border-radius:50%;background:#ff3d64"></div>
<div class="t" style="left:2090.0px;top:1273.9px;font-size:24.5px;color:#808080;font-weight:400;font-family:'Liberation Sans', sans-serif;letter-spacing:0.5px;">Провал</div>
<div class="r" style="left:2221.5px;top:1273.5px;width:24px;height:24px;border-radius:50%;background:#8ad554"></div>
<div class="t" style="left:2260.0px;top:1273.9px;font-size:24.5px;color:#808080;font-weight:400;font-family:'Liberation Sans', sans-serif;letter-spacing:1.3px;">Успех</div>
<svg style="left:0;top:0" width="2560" height="1440"><line x1="1861" y1="691" x2="1861" y2="1213" stroke="#e3e3e3" stroke-width="2"/><line x1="1981" y1="691" x2="1981" y2="1213" stroke="#e3e3e3" stroke-width="2"/><line x1="2099" y1="691" x2="2099" y2="1213" stroke="#e3e3e3" stroke-width="2"/><line x1="2218.6" y1="691" x2="2218.6" y2="1213" stroke="#e3e3e3" stroke-width="2"/><line x1="2336.5" y1="691" x2="2336.5" y2="1213" stroke="#e3e3e3" stroke-width="2"/><line x1="2458.5" y1="691" x2="2458.5" y2="1213" stroke="#e3e3e3" stroke-width="2"/><line x1="1861" y1="780" x2="2458.5" y2="780" stroke="#e3e3e3" stroke-width="2"/><line x1="1861" y1="957.2" x2="2458.5" y2="957.2" stroke="#e3e3e3" stroke-width="2"/><line x1="1861" y1="1135.8" x2="2458.5" y2="1135.8" stroke="#e3e3e3" stroke-width="2"/><rect x="1861" y="869" width="8" height="82" fill="#4da2f1"/><rect x="1861" y="915" width="531" height="83" fill="#ff3d64"/><rect x="1861" y="1093" width="55" height="84" fill="#8ad554"/></svg>
<div class="t" style="left:2096.0px;top:946.5px;font-size:22px;color:#2a1520;font-weight:400;font-family:'Liberation Sans', sans-serif;letter-spacing:1.0px;;-webkit-text-stroke:0.45px #2a1520;">4 455</div>
<div class="t" style="left:1866.0px;top:1123.9px;font-size:22px;color:#1f2a14;font-weight:400;font-family:'Liberation Sans', sans-serif;letter-spacing:1.0px;;-webkit-text-stroke:0.45px #1f2a14;">469</div>
<div class="t" style="left:1766.0px;top:1122.4px;font-size:23.8px;color:#808080;font-weight:400;font-family:'Liberation Sans', sans-serif;letter-spacing:0.6px;">Успех</div>
<div class="t" style="left:1861.0px;top:1210.5px;font-size:21.5px;color:#808080;font-weight:400;font-family:'Liberation Sans', sans-serif;letter-spacing:0px;transform:translateX(-50%)">0</div>
<div class="t" style="left:1981.0px;top:1210.5px;font-size:21.5px;color:#808080;font-weight:400;font-family:'Liberation Sans', sans-serif;letter-spacing:0px;transform:translateX(-50%)">1K</div>
<div class="t" style="left:2099.0px;top:1210.5px;font-size:21.5px;color:#808080;font-weight:400;font-family:'Liberation Sans', sans-serif;letter-spacing:0px;transform:translateX(-50%)">2K</div>
<div class="t" style="left:2218.6px;top:1210.5px;font-size:21.5px;color:#808080;font-weight:400;font-family:'Liberation Sans', sans-serif;letter-spacing:0px;transform:translateX(-50%)">3K</div>
<div class="t" style="left:2336.5px;top:1210.5px;font-size:21.5px;color:#808080;font-weight:400;font-family:'Liberation Sans', sans-serif;letter-spacing:0px;transform:translateX(-50%)">4K</div>
<div class="t" style="left:2458.5px;top:1210.5px;font-size:21.5px;color:#808080;font-weight:400;font-family:'Liberation Sans', sans-serif;letter-spacing:0px;transform:translateX(-100%);margin-left:-2px">5K</div>
<div class="r" style="left:1621px;top:601px;width:54px;height:54px;border:4px solid #5282ff;border-radius:15px;background:#fff"></div>
<div class="r" style="left:1635.0px;top:625.0px;width:6px;height:6px;border-radius:50%;background:#7f7f7f"></div>
<div class="r" style="left:1645.0px;top:625.0px;width:6px;height:6px;border-radius:50%;background:#7f7f7f"></div>
<div class="r" style="left:1655.0px;top:625.0px;width:6px;height:6px;border-radius:50%;background:#7f7f7f"></div>
<div class="r" style="left:1611px;top:670px;width:394px;height:384px;background:#fff;border-radius:9px;box-shadow:0 12px 44px rgba(0,0,0,0.2), 0 0 0 1px rgba(0,0,0,0.05)"></div>
<div class="r" style="left:1612px;top:786px;width:392px;height:2px;background:#e5e5e5;border-radius:0px;"></div>
<div class="r" style="left:1612px;top:909px;width:392px;height:2px;background:#e5e5e5;border-radius:0px;"></div>
<div class="r" style="left:1612px;top:984px;width:392px;height:2px;background:#e5e5e5;border-radius:0px;"></div>
<div class="r" style="left:1619px;top:997px;width:380px;height:55px;border:4px solid #5282ff;border-radius:16px"></div>
<svg style="left:1634px;top:687px" width="30" height="30" viewBox="0 0 30 30" fill="none" stroke="#333333" stroke-width="2.6" stroke-linecap="round" stroke-linejoin="round"><path d="M15 2 v19 M8 14 l7 7 l7 -7 M2 27.5 h26"/></svg>
<svg style="left:1634px;top:735px" width="30" height="30" viewBox="0 0 30 30" fill="none" stroke="#333333" stroke-width="2.6" stroke-linecap="round" stroke-linejoin="round"><rect x="2" y="3" width="26" height="24" rx="4"/><path d="M2 11 h26 M2 19 h26 M10.5 3 v24 M19.5 3 v24"/></svg>
<svg style="left:1634px;top:810px" width="30" height="30" viewBox="0 0 30 30" fill="none" stroke="#333333" stroke-width="2.6" stroke-linecap="round" stroke-linejoin="round"><path d="M12 4 h-6 a4 4 0 0 0 -4 4 v16 a4 4 0 0 0 4 4 h16 a4 4 0 0 0 4 -4 v-6"/><path d="M18 3 h9 v9 M27 3 l-12 12"/></svg>
<svg style="left:1634px;top:858px" width="30" height="30" viewBox="0 0 30 30" fill="none" stroke="#333333" stroke-width="2.6" stroke-linecap="round" stroke-linejoin="round"><path d="M16 4 l12 9.5 l-12 9.5 v-5.5 c-7 0 -11 2 -14 7 c0 -8 4 -14 14 -15 z"/></svg>
<svg style="left:1634px;top:934px" width="30" height="30" viewBox="0 0 30 30" fill="none" stroke="#333333" stroke-width="2.6" stroke-linecap="round" stroke-linejoin="round"><circle cx="13" cy="13" r="10.5"/><path d="M21 21 l6 6"/></svg>
<svg style="left:1634px;top:1009px" width="30" height="30" viewBox="0 0 30 30" fill="none" stroke="#333333" stroke-width="2.6" stroke-linecap="round" stroke-linejoin="round"><path d="M21 3.5 l5.5 5.5 l-17 17 h-5.5 v-5.5 z M17 7.5 l5.5 5.5"/></svg>
<svg style="left:1976px;top:693px" width="14" height="18" fill="none" stroke="#333" stroke-width="2" stroke-linecap="round" stroke-linejoin="round"><path d="M3 2.5 l6.5 6.5 l-6.5 6.5"/></svg>
<div class="t" style="left:1677.0px;top:686.4px;font-size:26px;color:#333333;font-weight:400;font-family:'Liberation Sans', sans-serif;letter-spacing:0px;">Сохранить как</div>
<div class="t" style="left:1677.0px;top:735.3px;font-size:26px;color:#333333;font-weight:400;font-family:'Liberation Sans', sans-serif;letter-spacing:0px;">Открыть как таблицу</div>
<div class="t" style="left:1677.0px;top:811.4px;font-size:26px;color:#333333;font-weight:400;font-family:'Liberation Sans', sans-serif;letter-spacing:0px;">Открыть в новой вкладке</div>
<div class="t" style="left:1677.0px;top:858.2px;font-size:26px;color:#333333;font-weight:400;font-family:'Liberation Sans', sans-serif;letter-spacing:0px;">Поделиться</div>
<div class="t" style="left:1677.0px;top:932.9px;font-size:26px;color:#333333;font-weight:400;font-family:'Liberation Sans', sans-serif;letter-spacing:0.6px;">Инспектор</div>
<div class="t" style="left:1677.0px;top:1010.9px;font-size:26px;color:#333333;font-weight:400;font-family:'Liberation Sans', sans-serif;letter-spacing:0px;">Редактировать</div>
<div class="r" style="left:0px;top:0px;width:2560px;height:3px;background:#c8c8c8;border-radius:0px;"></div>
<div class="r" style="left:0px;top:1437px;width:2560px;height:3px;background:#c8c8c8;border-radius:0px;"></div>
<div class="r" style="left:0px;top:0px;width:3px;height:1440px;background:#c8c8c8;border-radius:0px;"></div>
<div class="r" style="left:2557px;top:0px;width:3px;height:1440px;background:#c8c8c8;border-radius:0px;"></div>
</body></html>
